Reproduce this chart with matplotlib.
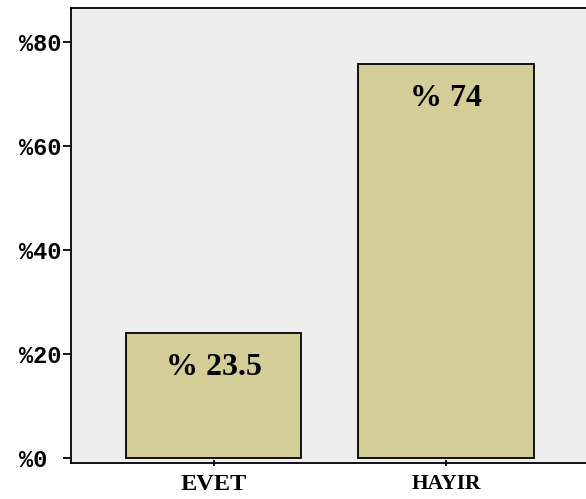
import matplotlib
matplotlib.use("Agg")
import matplotlib.pyplot as plt

# datos
categorias = ["EVET", "HAYIR"]
valores = [24.1, 75.9]
etiquetas = ["% 23.5", "% 74"]
ticksY = [0, 20, 40, 60, 80]
ticksYTexto = ["%0 ", "%20", "%40", "%60", "%80"]

fig = plt.figure(figsize=(5.86, 4.99), dpi=100)
ax = fig.add_axes([71 / 586, 36 / 499, 1 - 71 / 586, 455 / 499])
ax.set_facecolor("#eeeeee")

posiciones = range(len(categorias))
ax.bar(posiciones, valores, width=0.753, color="#d3ce98",
       edgecolor="black", linewidth=1.3, zorder=2)

for x, v, t in zip(posiciones, valores, etiquetas):
    ax.annotate(t, (x, v), xytext=(0, -20), textcoords="offset pixels",
                ha="center", va="top", fontsize=23, fontweight="bold",
                family="Liberation Serif")

ax.set_xlim(-0.613, 1.602)
ax.set_ylim(-0.9, 86.6)
ax.set_yticks(ticksY)
ax.set_yticklabels(ticksYTexto, family="Liberation Mono", fontweight="bold",
                   fontsize=17)
ax.set_xticks(list(posiciones))
ax.set_xticklabels(categorias, family="Liberation Serif", fontweight="bold")
etiquetasX = ax.get_xticklabels()
etiquetasX[0].set_fontsize(17.5)
etiquetasX[1].set_fontsize(15.5)

ax.tick_params(axis="y", length=6, width=1.3, pad=1)
ax.tick_params(axis="x", length=4, width=1.3, direction="inout", pad=6)
for lado in ["left", "top", "bottom"]:
    ax.spines[lado].set_linewidth(1.3)
ax.spines["right"].set_visible(False)

fig.savefig("out.png", dpi=100)
